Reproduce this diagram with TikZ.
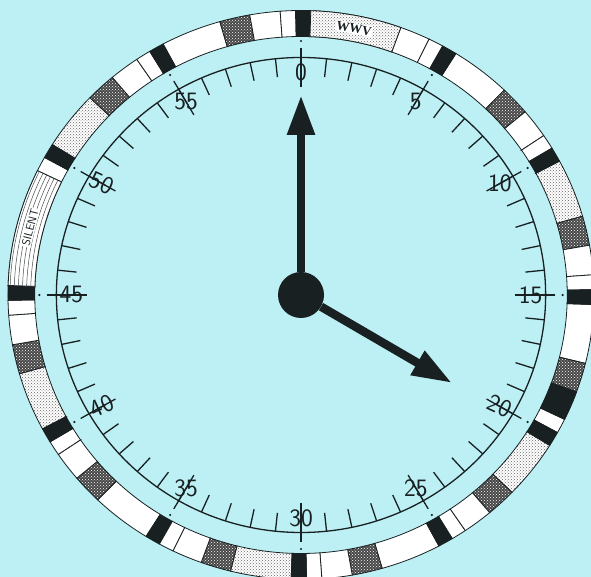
\documentclass[tikz,border=0pt]{standalone}
\usepackage{fontspec}
\newfontfamily\stampfont{Liberation Serif}
\usetikzlibrary{patterns,arrows.meta}

\definecolor{dialbg}{RGB}{188,240,244}
\definecolor{ink}{RGB}{25,32,34}

\newcommand{\rin}{258.5}
\newcommand{\rout}{284.5}
\newcommand{\roff}{0.18}
% one cell of the format ring, minute #1 to minute #2
\newcommand{\ringcell}[3]{%
  \path[#3] ({90-6*(#1-\roff)}:\rin) -- ({90-6*(#1-\roff)}:\rout)
    arc[start angle={90-6*(#1-\roff)}, end angle={90-6*(#2-\roff)}, radius=\rout]
    -- ({90-6*(#2-\roff)}:\rin)
    arc[start angle={90-6*(#2-\roff)}, end angle={90-6*(#1-\roff)}, radius=\rin] -- cycle;}

\begin{document}
\begin{tikzpicture}[x=1pt, y=1pt,
  blackcell/.style={fill=ink, draw=ink, line width=0.8pt},
  whitecell/.style={fill=white, draw=ink, line width=0.8pt},
  darkcell/.style={preaction={fill=black!72}, pattern=crosshatch dots, pattern color=white, draw=ink, line width=0.8pt},
  lightcell/.style={preaction={fill=white}, pattern=crosshatch dots, pattern color=black!60, draw=ink, line width=0.8pt},
  tick/.style={ink, line width=1.3pt},
  minlabel/.style={inner sep=0pt, text=ink, font=\sffamily\fontsize{25}{25}\selectfont},
  hand/.style={ink, line width=8.5pt, -{Triangle[length=40pt, width=26pt]}},
  hub/.style={circle, fill=ink, minimum size=46pt, inner sep=0pt}]

  \useasboundingbox (0,0) rectangle (591,577);
  \fill[dialbg] (0,0) rectangle (591,577);
  \clip (0,0) rectangle (591,577);

  \begin{scope}[shift={(301,282)}, xscale=1.03]
    % format ring
    \foreach \m in {0,10,...,50} {
      \ringcell{\m+0.5}{\m+2.5}{lightcell}
    }
    \foreach \m in {5,15,...,55} {
      \ringcell{\m+0.5}{\m+2.5}{whitecell}
    }
    \foreach \m in {0,5,...,55} {
      \ringcell{\m}{\m+0.5}{blackcell}
      \ringcell{\m+2.5}{\m+3.5}{darkcell}
      \ringcell{\m+3.5}{\m+4.5}{whitecell}
      \ringcell{\m+4.5}{\m+5}{whitecell}
    }
    \ringcell{0.5}{3.5}{lightcell}
    \ringcell{18.5}{19.5}{blackcell}
    \ringcell{45.5}{49.5}{whitecell}

    % silent period
    \foreach \r in {262.5,266.5,...,282.5}
      \draw[ink!80, line width=0.5pt] ({90-6*(45.5-\roff)}:\r)
        arc[start angle={90-6*(45.5-\roff)}, end angle={90-6*(49.5-\roff)}, radius=\r];
    \node[fill=white, inner sep=1pt, rotate=75.6, text=ink,
      font=\sffamily\fontsize{11.5}{11.5}\selectfont] (silent) at ({90-6*47.4}:271.5) {SILENT};
    \node[fill=white, inner sep=1pt, rotate=-10.9, text=ink,
      font=\stampfont\bfseries\fontsize{13}{13}\selectfont] (wwv) at ({90-6*1.82}:271.5) {WWV};

    % dial
    \draw[tick] (0,0) circle (237.5);
    \foreach \m in {0,...,59}
      \draw[tick] ({90-6*\m}:237.5) -- ({90-6*\m}:219);
    \foreach \m in {0,5,...,55} {
      \draw[tick] ({90-6*\m}:247) -- ({90-6*\m}:208);
      \fill[ink] ({90-6*\m}:254) circle (1.2);
    }
    \foreach \m/\r in {0/0,5/0,10/0,15/0,20/-25,25/0,30/0,35/0,40/25,45/0,50/-25,55/0}
      \node[minlabel, rotate=\r] (lab\m) at ({90-6*\m}:223) {\m};
  \end{scope}

  % hands
  \node[hub] (hub) at (301,282) {};
  \coordinate (mintip) at (301,482);
  \coordinate (hourtip) at (452,194);
  \draw[hand] (hub) -- (mintip);
  \draw[hand] (hub) -- (hourtip);
\end{tikzpicture}
\end{document}
